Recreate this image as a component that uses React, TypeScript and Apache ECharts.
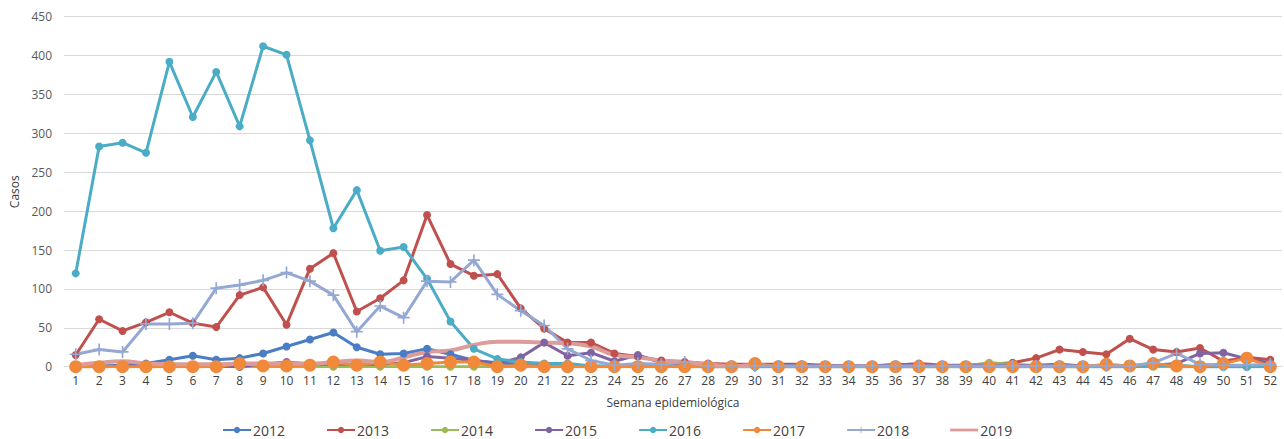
import React, { useEffect, useRef } from "react";
import * as echarts from "echarts";

const weeks: string[] = Array.from({ length: 52 }, (_, i) => String(i + 1));

const years: string[] = ["2012", "2013", "2014", "2015", "2016", "2017", "2018", "2019"];

const s2012: number[] = [0, 1, 2, 4, 9, 14, 9, 11, 17, 26, 35, 44, 25, 16, 17, 23, 16, 8, 5, 3, 2, 1, 1, 0, 1, 1, 0, 0, 0, 0, 0, 0, 0, 0, 0, 0, 0, 0, 0, 0, 0, 0, 0, 0, 0, 0, 1, 0, 0, 0, 0, 0];
const s2013: number[] = [15, 61, 46, 57, 70, 56, 51, 92, 102, 54, 126, 146, 71, 88, 111, 195, 132, 117, 119, 75, 49, 31, 31, 17, 13, 8, 6, 4, 3, 3, 3, 3, 2, 1, 1, 2, 4, 2, 2, 3, 5, 11, 22, 19, 16, 36, 22, 19, 24, 7, 12, 9];
const s2014: number[] = [0, 0, 0, 0, 0, 0, 0, 0, 0, 0, 0, 0, 0, 0, 0, 0, 0, 0, 0, 0, 0, 0, 0, 0, 0, 0, 0, 0, 0, 0, 0, 0, 0, 0, 0, 0, 0, 0, 1, 5, 3, 1, 0, 0, 0, 0, 0, 0, 0, 0, 0, 0];
const s2015: number[] = [0, 0, 1, 1, 1, 1, 1, 0, 3, 6, 3, 3, 3, 3, 5, 13, 11, 8, 4, 12, 31, 14, 18, 7, 15, 5, 3, 2, 2, 1, 2, 2, 1, 1, 1, 3, 2, 1, 2, 2, 2, 2, 3, 1, 1, 2, 2, 4, 17, 18, 10, 5];
const s2016: number[] = [120, 283, 288, 275, 392, 321, 379, 309, 412, 401, 291, 178, 227, 149, 154, 113, 58, 23, 10, 6, 4, 4, 1, 1, 1, 1, 1, 0, 0, 0, 0, 0, 0, 0, 0, 0, 0, 0, 0, 0, 0, 0, 0, 0, 0, 0, 1, 2, 0, 0, 0, 1];
const s2017: number[] = [0, 0, 0, 0, 0, 0, 0, 4, 1, 1, 2, 6, 2, 6, 2, 4, 6, 6, 0, 2, 0, 0, 0, 0, 0, 0, 0, 0, 0, 4, 0, 0, 0, 0, 0, 0, 0, 0, 0, 0, 0, 0, 0, 0, 3, 1, 4, 1, 0, 4, 11, 0];
const s2018: number[] = [16, 22, 19, 55, 55, 56, 101, 105, 111, 121, 110, 92, 45, 78, 63, 110, 109, 137, 93, 72, 53, 23, 8, 2, 4, 3, 6, 1, 1, 1, 1, 1, 1, 1, 1, 1, 1, 1, 1, 1, 1, 1, 1, 1, 1, 1, 5, 17, 3, 2, 2, 3];
const s2019: number[] = [2, 5, 7, 4, 3, 3, 3, 4, 4, 4, 4, 6, 8, 6, 12, 19, 21, 28, 32, 32, 31, 30, 26, 15, 12, 8, 6, 3, 1, 1];

const yTicks: number[] = [0, 50, 100, 150, 200, 250, 300, 350, 400, 450];

const colors = ["#4a7ec4", "#c0504d", "#9bbb59", "#8064a2", "#4bacc6", "#f08a3a", "#95a8d4", "#dc9c9a"];
const plus = "path://M4.3,0H5.7V4.3H10V5.7H5.7V10H4.3V5.7H0V4.3H4.3Z";

export default function App() {
  const ref = useRef<HTMLDivElement>(null);
  useEffect(() => {
    document.body.style.margin = "0";
    if (!ref.current) return;
    const chart = echarts.init(ref.current, null, { renderer: "svg" });
    const data = [s2012, s2013, s2014, s2015, s2016, s2017, s2018, s2019];
    const series = years.map((y, i) => {
      const base: any = {
        name: y,
        type: "line",
        data: data[i],
        color: colors[i],
        lineStyle: { width: 3, color: colors[i] },
        itemStyle: { color: colors[i] },
        symbol: "circle",
        symbolSize: 8,
        showSymbol: true,
      };
      if (y === "2017") base.symbolSize = 13;
      if (y === "2018") {
        base.symbol = plus;
        base.symbolSize = 12;
      }
      if (y === "2019") {
        base.showSymbol = false;
        base.symbol = "none";
        base.smooth = true;
        base.lineStyle = { width: 4, color: colors[i] };
      }
      return base;
    });
    const legendData = years.map((y) =>
      y === "2019" ? { name: y, icon: "path://M0,3.5H30V6.5H0Z", itemStyle: { color: colors[7] } } : { name: y }
    );
    chart.setOption({
      animation: false,
      textStyle: { fontFamily: "'Open Sans', sans-serif" },
      grid: { left: 64, right: 2, top: 16.7, bottom: 72.3, containLabel: false },
      xAxis: {
        type: "category",
        data: weeks,
        boundaryGap: true,
        name: "Semana epidemiológica",
        nameLocation: "middle",
        nameGap: 30,
        nameTextStyle: { fontSize: 12, color: "#404040" },
        axisLine: { show: true, lineStyle: { color: "#d9d9d9", width: 1 } },
        axisTick: { show: false },
        axisLabel: { interval: 0, fontSize: 12, color: "#404040", margin: 8 },
        splitLine: { show: false },
      },
      yAxis: {
        type: "value",
        min: yTicks[0],
        max: yTicks[yTicks.length - 1],
        interval: 50,
        name: "Casos",
        nameLocation: "middle",
        nameGap: 40,
        nameTextStyle: { fontSize: 12, color: "#404040" },
        axisLine: { show: false },
        axisTick: { show: false },
        axisLabel: { fontSize: 12, color: "#595959", margin: 12 },
        splitLine: { show: true, lineStyle: { color: "#d9d9d9", width: 1 } },
      },
      legend: {
        data: legendData,
        left: 220,
        top: 421,
        padding: 2,
        itemWidth: 28,
        itemHeight: 8,
        itemGap: 41,
        textStyle: {
          fontFamily: "'Liberation Sans Narrow', 'Open Sans', sans-serif",
          fontSize: 14,
          color: "#404040",
          padding: [0, 0, 0, -3],
        },
      },
      series,
    });
    return () => chart.dispose();
  }, []);
  return <div ref={ref} style={{ width: 1284, height: 439 }} />;
}
